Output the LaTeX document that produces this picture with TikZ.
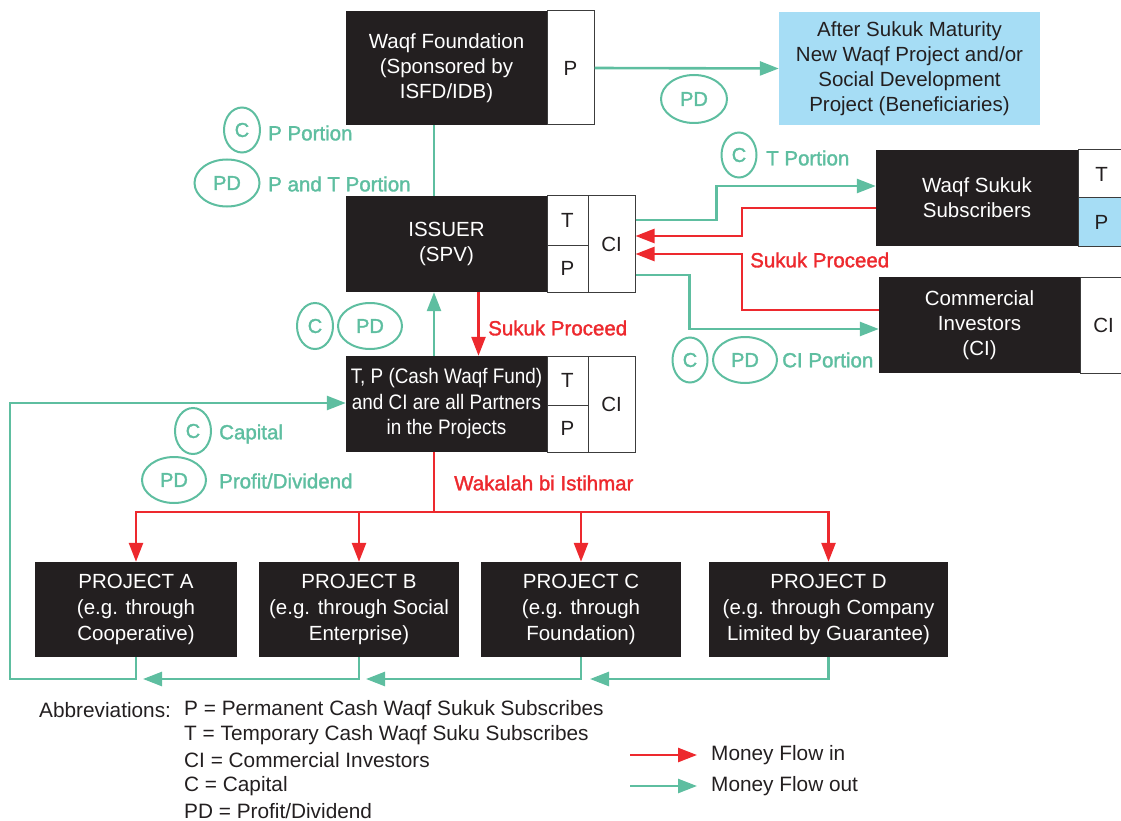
\documentclass[tikz,border=0pt]{standalone}
\usepackage{fontspec}
\setmainfont{Liberation Sans}
\newfontfamily\condfont[FakeStretch=0.9]{Liberation Sans}
\newfontfamily\lblfont[FakeBold=1.6]{Liberation Sans}
\usetikzlibrary{arrows.meta,calc,shapes.geometric}
\definecolor{tealc}{RGB}{94,190,160}
\definecolor{redc}{RGB}{237,41,46}
\definecolor{blkc}{RGB}{35,31,32}
\definecolor{bluc}{RGB}{166,221,245}
\definecolor{cellc}{RGB}{60,60,60}
\begin{document}
\begin{tikzpicture}[x=1pt,y=-1pt,
  blkbox/.style={fill=blkc, text=white, inner sep=0pt, align=center, font=\fontsize{20.5}{25}\selectfont},
  condbox/.style={fill=blkc, text=white, inner sep=0pt, align=center, font=\condfont\fontsize{21}{25.5}\selectfont},
  projbox/.style={fill=blkc, text=white, inner sep=0pt, align=center, font=\fontsize{20.5}{26}\selectfont},
  bluebox/.style={fill=bluc, text=blkc, inner sep=0pt, align=center, font=\fontsize{20.5}{25}\selectfont},
  cellbox/.style={draw=cellc, line width=1pt, fill=white, text=blkc, inner sep=0pt, font=\fontsize{20.5}{24}\selectfont},
  tline/.style={draw=tealc, line width=2.6pt},
  rline/.style={draw=redc, line width=2.6pt},
  tarr/.style={tline, -{Triangle[length=19pt,width=14pt]}},
  rarr/.style={rline, -{Triangle[length=19pt,width=14pt]}},
  oval/.style={draw=tealc, ellipse, line width=2pt, text=tealc, inner sep=0pt, font=\lblfont\fontsize{20}{24}\selectfont},
  tlabel/.style={text=tealc, anchor=west, inner sep=0pt, font=\lblfont\fontsize{20.5}{24}\selectfont},
  rlabel/.style={text=redc, anchor=west, inner sep=0pt, font=\lblfont\fontsize{20.5}{24}\selectfont},
  legtext/.style={text=blkc, anchor=west, inner sep=0pt, font=\fontsize{20.8}{24}\selectfont}
]
\useasboundingbox (0,0) rectangle (1121,821);

% Waqf Foundation
\node[blkbox, minimum width=201pt, minimum height=114pt] (wf) at (446.5,68) {Waqf Foundation\\(Sponsored by\\ISFD/IDB)};
\node[cellbox, minimum width=47pt, minimum height=114pt] (wfP) at (570.5,68) {P};
% After Sukuk maturity
\node[bluebox, minimum width=261pt, minimum height=113pt] (blue) at (909.5,68.5) {After Sukuk Maturity\\New Waqf Project and/or\\Social Development\\Project (Beneficiaries)};

% Issuer
\node[blkbox, minimum width=201pt, minimum height=96pt] (iss) at (446.5,244) {ISSUER\\(SPV)};
\node[cellbox, minimum width=41pt, minimum height=49pt] (iT) at (567.5,220.5) {T};
\node[cellbox, minimum width=41pt, minimum height=47pt] (iP) at (567.5,268.5) {P};
\node[cellbox, minimum width=47pt, minimum height=96pt] (iCI) at (611.5,244) {CI};

% Waqf Sukuk Subscribers
\node[blkbox, minimum width=202pt, minimum height=96pt] (ws) at (977,198) {Waqf Sukuk\\Subscribers};
\node[cellbox, minimum width=47pt, minimum height=48pt] (wsT) at (1101.5,174) {T};
\node[cellbox, fill=bluc, minimum width=47pt, minimum height=48pt] (wsP) at (1101.5,222) {P};

% Commercial investors
\node[blkbox, minimum width=201pt, minimum height=96pt] (ci) at (979.5,325) {Commercial\\Investors\\(CI)};
\node[cellbox, minimum width=47pt, minimum height=96pt] (ciC) at (1103.5,325) {CI};

% Middle partners node
\node[condbox, minimum width=201pt, minimum height=96pt] (mid) at (446.5,404) {T, P (Cash Waqf Fund)\\and CI are all Partners\\in the Projects};
\node[cellbox, minimum width=41pt, minimum height=49pt] (mT) at (567.5,380.5) {T};
\node[cellbox, minimum width=41pt, minimum height=47pt] (mP) at (567.5,428.5) {P};
\node[cellbox, minimum width=47pt, minimum height=96pt] (mCI) at (611.5,404) {CI};

% Projects
\node[projbox, minimum width=202pt, minimum height=95pt] (pA) at (136,609.5) {PROJECT A\\(e.g. through\\Cooperative)};
\node[projbox, minimum width=200pt, minimum height=95pt] (pB) at (359,609.5) {PROJECT B\\(e.g. through Social\\Enterprise)};
\node[projbox, minimum width=200pt, minimum height=95pt] (pC) at (581,609.5) {PROJECT C\\(e.g. through\\Foundation)};
\node[projbox, minimum width=239pt, minimum height=95pt] (pD) at (828.5,609.5) {PROJECT D\\(e.g. through Company\\Limited by Guarantee)};

% connectors top
\draw[tarr] (wfP.east) -- (blue.west);
\draw[tline] ([xshift=-12.5pt]wf.south) -- ([xshift=-12.5pt]iss.north);
\draw[tarr] ([yshift=24pt]iCI.east) -- ++(81,0) |- ([yshift=12pt]ws.west);
\draw[rarr] ([yshift=-10pt]ws.west) -- ++(-134,0) |- ([yshift=8pt]iCI.east);
\draw[rarr] ([yshift=15pt]ci.west) -- ++(-137,0) |- ([yshift=-10pt]iCI.east);
\draw[tarr] ([yshift=-31pt]iCI.east) -- ++(54,0) |- ([yshift=-4pt]ci.west);

% issuer <-> middle
\draw[tarr] ([xshift=-12.5pt]mid.north) -- ([xshift=-12.5pt]iss.south);
\draw[rarr] ([xshift=32pt]iss.south) -- ([xshift=32pt]mid.north);

% Wakalah tree
\coordinate (rj) at (434,512);
\draw[rline] ([xshift=-12.5pt]mid.south) -- (rj);
\draw[rarr] (rj) -| (pA.north);
\draw[rarr] (rj) -| (pD.north);
\draw[rarr] (pB.north |- rj) -- (pB.north);
\draw[rarr] (pC.north |- rj) -- (pC.north);

% return lines
\coordinate (rb) at (0,679);
\coordinate (lx) at (10,403);
\draw[tarr] (pA.south) |- (lx |- rb) -- (lx) -- (lx -| mid.west);
\draw[tarr] (pB.south) |- ([xshift=7pt]pA.south |- rb);
\draw[tarr] (pC.south) |- ([xshift=7pt]pB.south |- rb);
\draw[tarr] (pD.south) |- ([xshift=9pt]pC.south |- rb);

% labels
\node[oval, minimum width=36pt, minimum height=45pt] (o1) at (242,130) {C};
\node[tlabel] (l1) at (268,133) {P Portion};
\node[oval, minimum width=65pt, minimum height=47pt] (o2) at (227,183) {PD};
\node[tlabel] (l2) at (268,184) {P and T Portion};
\node[oval, minimum width=66pt, minimum height=48pt] (o3) at (694,99) {PD};
\node[oval, minimum width=35pt, minimum height=45pt] (o4) at (739,155) {C};
\node[tlabel] (l4) at (766,158) {T Portion};
\node[rlabel] (l5) at (750,260) {Sukuk Proceed};
\node[oval, minimum width=35pt, minimum height=45pt] (o6) at (690,360) {C};
\node[oval, minimum width=64pt, minimum height=46pt] (o7) at (745,360) {PD};
\node[tlabel] (l7) at (782,360) {CI Portion};
\node[oval, minimum width=36pt, minimum height=46pt] (o8) at (315,326) {C};
\node[oval, minimum width=64pt, minimum height=46pt] (o9) at (370,326) {PD};
\node[rlabel] (l9) at (488,328) {Sukuk Proceed};
\node[oval, minimum width=36pt, minimum height=46pt] (o10) at (193,431) {C};
\node[tlabel] (l10) at (219,434) {Capital};
\node[oval, minimum width=64pt, minimum height=46pt] (o11) at (174,480) {PD};
\node[tlabel] (l11) at (219,481) {Profit/Dividend};
\node[rlabel] (l12) at (454,483) {Wakalah bi Istihmar};

% legend
\node[legtext] (ab) at (39,710) {Abbreviations:};
\node[legtext] (a1) at (184,710) {P = Permanent Cash Waqf Sukuk Subscribes};
\node[legtext] (a2) at (184,735) {T = Temporary Cash Waqf Suku Subscribes};
\node[legtext] (a3) at (184,760) {CI = Commercial Investors};
\node[legtext] (a4) at (184,786) {C = Capital};
\node[legtext] (a5) at (184,811) {PD = Profit/Dividend};
\coordinate (ra1) at (630,755);
\coordinate (ra2) at (697,755);
\coordinate (ta1) at (630,786);
\coordinate (ta2) at (697,786);
\draw[rarr] (ra1) -- (ra2);
\draw[tarr] (ta1) -- (ta2);
\node[legtext] (m1) at (711,755) {Money Flow in};
\node[legtext] (m2) at (711,786) {Money Flow out};
\end{tikzpicture}
\end{document}
